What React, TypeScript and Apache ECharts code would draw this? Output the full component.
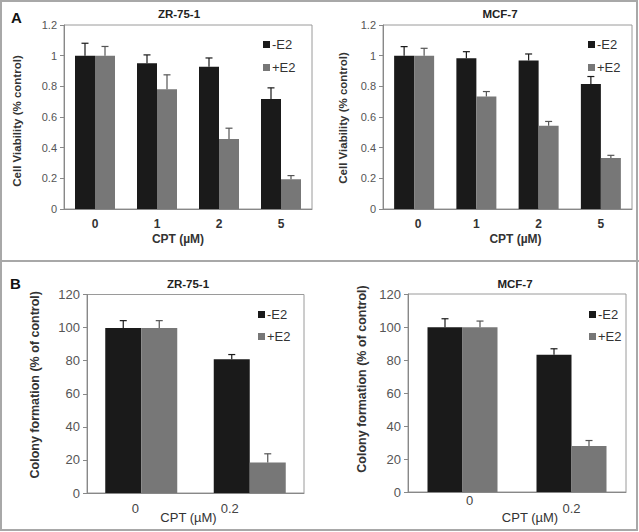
import React, { useEffect, useRef } from "react";
import * as echarts from "echarts";

const FONT = '"Liberation Sans", Arial, Helvetica, sans-serif';

// Panel A: cell viability
const cptA = ["0", "1", "2", "5"];
const zrViabMinus = [1.0, 0.95, 0.928, 0.718];
const zrViabMinusErr = [0.081, 0.055, 0.057, 0.072];
const zrViabPlus = [1.0, 0.781, 0.456, 0.194];
const zrViabPlusErr = [0.06, 0.094, 0.071, 0.024];
const mcfViabMinus = [1.0, 0.983, 0.968, 0.816];
const mcfViabMinusErr = [0.059, 0.043, 0.043, 0.048];
const mcfViabPlus = [1.0, 0.733, 0.543, 0.332];
const mcfViabPlusErr = [0.048, 0.033, 0.028, 0.018];

// Panel B: colony formation
const cptB = ["0", "0.2"];
const zrColMinus = [99.8, 80.9];
const zrColMinusErr = [4.4, 2.8];
const zrColPlus = [99.8, 18.5];
const zrColPlusErr = [4.4, 5.2];
const mcfColMinus = [99.8, 83.2];
const mcfColMinusErr = [5.2, 3.6];
const mcfColPlus = [99.8, 27.9];
const mcfColPlusErr = [3.8, 3.3];

const seriesNames = ["-E2", "+E2"];
const BLACK = "#1a1a1a";
const GRAY = "#777777";

type Panel = {
  grid: { left: number; top: number; width: number; height: number };
  cats: string[];
  minus: number[];
  minusErr: number[];
  plus: number[];
  plusErr: number[];
  yMax: number;
  yInterval: number;
  barWidth: number;
  yName: string;
  yNameGap: number;
  yNamePad: number[];
  yNameSize: number;
  yLabelSize: number;
  xLabelBold: boolean;
  xLabelSize: number;
  xLabelMargin: number;
  xLabelPads: number[][];
  xNameGap: number;
  xNamePad: number[];
  xNameBold: boolean;
  xNameSize: number;
  legendLeft: number;
  legendTop: number;
  legendGap: number;
};

const panels: Panel[] = [
  {
    grid: { left: 64, top: 25, width: 248, height: 184 },
    cats: cptA, minus: zrViabMinus, minusErr: zrViabMinusErr, plus: zrViabPlus, plusErr: zrViabPlusErr,
    yMax: 1.2, yInterval: 0.2, barWidth: 20,
    yName: "Cell Viability (% control)", yNameGap: 41, yNamePad: [0, 8, 0, 0], yNameSize: 11.5, yLabelSize: 11,
    xLabelBold: true, xLabelSize: 12, xLabelMargin: 9, xLabelPads: [[0, 0, 0, 0], [0, 0, 0, 0], [0, 0, 0, 0], [0, 0, 0, 0]],
    xNameGap: 24, xNamePad: [0, 20, 0, 0], xNameBold: true, xNameSize: 12,
    legendLeft: 263, legendTop: 38, legendGap: 10,
  },
  {
    grid: { left: 383, top: 25, width: 249, height: 184 },
    cats: cptA, minus: mcfViabMinus, minusErr: mcfViabMinusErr, plus: mcfViabPlus, plusErr: mcfViabPlusErr,
    yMax: 1.2, yInterval: 0.2, barWidth: 20,
    yName: "Cell Viability (% control)", yNameGap: 34, yNamePad: [0, 2, 0, 0], yNameSize: 11.5, yLabelSize: 11,
    xLabelBold: true, xLabelSize: 12, xLabelMargin: 9, xLabelPads: [[0, 0, 0, 8], [0, 0, 0, 0], [0, 0, 0, 0], [0, 0, 0, 0]],
    xNameGap: 24, xNamePad: [0, 0, 0, 16], xNameBold: true, xNameSize: 12,
    legendLeft: 588, legendTop: 38, legendGap: 10,
  },
  {
    grid: { left: 87, top: 294.5, width: 217, height: 198.5 },
    cats: cptB, minus: zrColMinus, minusErr: zrColMinusErr, plus: zrColPlus, plusErr: zrColPlusErr,
    yMax: 120, yInterval: 20, barWidth: 36,
    yName: "Colony formation (% of control)", yNameGap: 46, yNamePad: [0, 0, 0, 18], yNameSize: 12.5, yLabelSize: 13,
    xLabelBold: false, xLabelSize: 13, xLabelMargin: 9, xLabelPads: [[0, 12, 0, 0], [0, 40, 0, 0]],
    xNameGap: 18, xNamePad: [0, 14, 0, 0], xNameBold: false, xNameSize: 13,
    legendLeft: 258, legendTop: 308, legendGap: 9,
  },
  {
    grid: { left: 408, top: 294, width: 218, height: 198 },
    cats: cptB, minus: mcfColMinus, minusErr: mcfColMinusErr, plus: mcfColPlus, plusErr: mcfColPlusErr,
    yMax: 120, yInterval: 20, barWidth: 35,
    yName: "Colony formation (% of control)", yNameGap: 40, yNamePad: [0, 0, 0, 28], yNameSize: 12.5, yLabelSize: 13,
    xLabelBold: false, xLabelSize: 13, xLabelMargin: 2, xLabelPads: [[0, 0, 0, 14], [8, 0, 0, 0]],
    xNameGap: 19, xNamePad: [0, 0, 0, 26], xNameBold: false, xNameSize: 13,
    legendLeft: 589, legendTop: 308, legendGap: 9,
  },
];

const titles = [
  { text: "ZR-75-1", x: 179, y: 8 },
  { text: "MCF-7", x: 500, y: 8 },
  { text: "ZR-75-1", x: 188, y: 278 },
  { text: "MCF-7", x: 515, y: 278 },
];

function buildOption() {
  const grids: any[] = [];
  const xAxes: any[] = [];
  const yAxes: any[] = [];
  const series: any[] = [];
  const legends: any[] = [];

  panels.forEach((p, i) => {
    grids.push({
      ...p.grid,
      show: true,
      borderColor: "#9a9a9a",
      borderWidth: 1,
      backgroundColor: "transparent",
      containLabel: false,
      outerBoundsMode: "none",
    });
    const rich: any = {};
    p.cats.forEach((_, k) => {
      rich["l" + k] = {
        fontFamily: FONT,
        fontSize: p.xLabelSize,
        fontWeight: p.xLabelBold ? "bold" : "normal",
        color: p.xLabelBold ? "#333" : "#444",
        padding: p.xLabelPads[k],
      };
    });
    xAxes.push({
      type: "category",
      gridIndex: i,
      data: p.cats,
      axisLine: { lineStyle: { color: "#888", width: 1 } },
      axisTick: { show: false },
      axisLabel: {
        margin: p.xLabelMargin,
        interval: 0,
        formatter: (v: string, idx: number) => `{l${idx}|${v}}`,
        rich,
      },
      name: "CPT (µM)",
      nameLocation: "middle",
      nameGap: p.xNameGap,
      nameMoveOverlap: false,
      nameTextStyle: {
        fontFamily: FONT,
        fontSize: p.xNameSize,
        fontWeight: p.xNameBold ? "bold" : "normal",
        color: "#333",
        padding: p.xNamePad,
      },
    });
    yAxes.push({
      type: "value",
      gridIndex: i,
      min: 0,
      max: p.yMax,
      interval: p.yInterval,
      splitLine: { show: false },
      axisLine: { show: true, lineStyle: { color: "#888", width: 1 } },
      axisTick: { show: true, length: 4, lineStyle: { color: "#888" } },
      axisLabel: { fontFamily: FONT, fontSize: p.yLabelSize, color: "#555", margin: 7 },
      name: p.yName,
      nameLocation: "middle",
      nameGap: p.yNameGap,
      nameMoveOverlap: false,
      nameTextStyle: {
        fontFamily: FONT,
        fontSize: p.yNameSize,
        fontWeight: "bold",
        color: "#333",
        padding: p.yNamePad,
      },
    });
    const vals = [p.minus, p.plus];
    const errs = [p.minusErr, p.plusErr];
    const colors = [BLACK, GRAY];
    const errColors = ["#1a1a1a", "#555555"];
    seriesNames.forEach((name, s) => {
      series.push({
        type: "bar",
        name,
        xAxisIndex: i,
        yAxisIndex: i,
        data: vals[s],
        barWidth: p.barWidth,
        barGap: "0%",
        itemStyle: { color: colors[s] },
        emphasis: { disabled: true },
      });
    });
    seriesNames.forEach((name, s) => {
      const offset = (s === 0 ? -0.5 : 0.5) * p.barWidth;
      series.push({
        type: "custom",
        name: "err" + name,
        xAxisIndex: i,
        yAxisIndex: i,
        z: 5,
        data: vals[s].map((v, k) => [k, v, errs[s][k]]),
        renderItem: (params: any, api: any) => {
          const k = api.value(0);
          const v = api.value(1);
          const e = api.value(2);
          const base = api.coord([k, v]);
          const top = api.coord([k, v + e]);
          const x = base[0] + offset;
          const stroke = { stroke: errColors[s], lineWidth: 1.2 };
          return {
            type: "group",
            children: [
              { type: "line", shape: { x1: x, y1: base[1], x2: x, y2: top[1] }, style: stroke },
              { type: "line", shape: { x1: x - 3.5, y1: top[1], x2: x + 3.5, y2: top[1] }, style: stroke },
            ],
          };
        },
      });
    });
    legends.push({
      orient: "vertical",
      left: p.legendLeft,
      top: p.legendTop,
      padding: 0,
      itemGap: p.legendGap,
      itemWidth: 7,
      itemHeight: 7,
      icon: "rect",
      selectedMode: false,
      data: seriesNames,
      textStyle: { fontFamily: FONT, fontSize: 13, color: "#333", padding: [0, 0, 0, -3] },
    });
  });

  const graphic: any[] = [
    { type: "rect", shape: { x: 1, y: 1, width: 636, height: 529 }, style: { fill: "none", stroke: "#a8a8a8", lineWidth: 2 } },
    { type: "line", shape: { x1: 0, y1: 261, x2: 639, y2: 261 }, style: { stroke: "#a8a8a8", lineWidth: 2 } },
    { type: "text", x: 11, y: 10, style: { text: "A", fontFamily: FONT, fontSize: 15, fontWeight: "bold", fill: "#111" } },
    { type: "text", x: 10, y: 276, style: { text: "B", fontFamily: FONT, fontSize: 15, fontWeight: "bold", fill: "#111" } },
  ];

  return {
    animation: false,
    backgroundColor: "#ffffff",
    title: titles.map((t) => ({
      text: t.text,
      left: t.x,
      top: t.y,
      textAlign: "center",
      padding: 0,
      textStyle: { fontFamily: FONT, fontSize: 11.5, fontWeight: "bold", color: "#222" },
    })),
    grid: grids,
    xAxis: xAxes,
    yAxis: yAxes,
    legend: legends,
    series,
    graphic,
  };
}

export default function App() {
  const ref = useRef<HTMLDivElement>(null);
  useEffect(() => {
    if (!ref.current) return;
    const chart = echarts.init(ref.current, undefined, { renderer: "svg" });
    chart.setOption(buildOption() as any);
    return () => chart.dispose();
  }, []);
  return (
    <div
      ref={ref}
      style={{ position: "fixed", left: 0, top: 0, width: 639, height: 532, background: "#fff" }}
    />
  );
}
